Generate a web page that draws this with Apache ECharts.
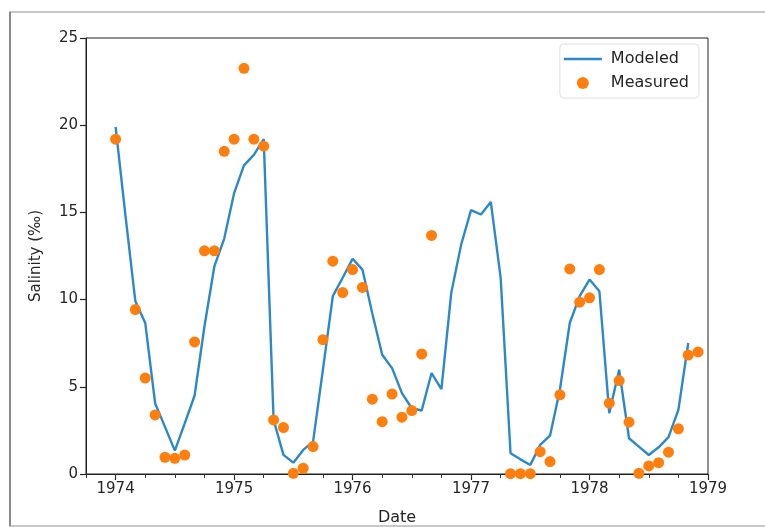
<!DOCTYPE html>
<html>
<head>
<meta charset="utf-8">
<script src="https://cdn.jsdelivr.net/npm/echarts@6/dist/echarts.min.js"></script>
<style>
html,body{margin:0;padding:0;background:#fff;}
#chart{width:765px;height:531px;}
</style>
</head>
<body>
<div id="chart"></div>
<script>
// Time base: values are monthly, index k => year startYear + k/12
const startYear = 1974;

// Modeled salinity, one value per month from Jan 1974 (k = 0..58)
const modeledValues = [
  19.9, 14.8, 9.9, 8.66, 4.06, 2.7, 1.34, 2.9, 4.5, 8.47, 11.9, 13.5,
  16.1, 17.7, 18.3, 19.2, 3.1, 1.1, 0.65, 1.38, 1.86, 6.0, 10.2, 11.25,
  12.34, 11.72, 9.2, 6.84, 6.07, 4.64, 3.77, 3.64, 5.79, 4.87, 10.4, 13.16,
  15.13, 14.88, 15.6, 11.25, 1.19, 0.84, 0.52, 1.67, 2.2, 4.83, 8.66, 10.2,
  11.15, 10.48, 3.49, 5.98, 2.05, 1.57, 1.09, 1.53, 2.11, 3.68, 7.51
];

// Measured salinity: month index and value
const measuredMonths = [
  0, 2, 3, 4, 5, 6, 7, 8, 9, 10, 11, 12, 13, 14, 15, 16, 17, 18, 19, 20,
  21, 22, 23, 24, 25, 26, 27, 28, 29, 30, 31, 32,
  40, 41, 42, 43, 44, 45, 46, 47, 48, 49, 50, 51, 52, 53, 54, 55, 56, 57, 58, 59
];
const measuredValues = [
  19.2, 9.43, 5.5, 3.39, 0.96, 0.9, 1.09, 7.57, 12.8, 12.8, 18.5, 19.2, 23.26, 19.2, 18.8, 3.1, 2.66, 0.04, 0.33, 1.57,
  7.7, 12.2, 10.4, 11.72, 10.7, 4.29, 3.0, 4.58, 3.26, 3.64, 6.88, 13.68,
  0.02, 0.02, 0.02, 1.28, 0.71, 4.54, 11.76, 9.85, 10.1, 11.72, 4.06, 5.36, 2.97, 0.04, 0.46, 0.65, 1.25, 2.59, 6.82, 7.0
];

// Axis ticks
const xMajorTicks = [1974, 1975, 1976, 1977, 1978, 1979];
const xMinorInterval = 0.25;
const yTicks = [0, 5, 10, 15, 20, 25];

const modeledData = modeledValues.map((v, k) => [startYear + k / 12, v]);
const measuredData = measuredValues.map((v, i) => [startYear + measuredMonths[i] / 12, v]);

const FONT = 'DejaVu Sans';
const TXT = '#262626';

const chart = echarts.init(document.getElementById('chart'), null, {renderer: 'canvas'});
const option = {
  backgroundColor: '#fff',
  animation: false,
  graphic: [
    {type: 'rect', z: -10, silent: true,
     shape: {x: 10, y: 12, width: 770, height: 514},
     style: {fill: 'none', stroke: '#c8c8c8', lineWidth: 2}},
    {type: 'line', z: -9, silent: true,
     shape: {x1: 10, y1: 12, x2: 10, y2: 526},
     style: {stroke: '#8a8a8a', lineWidth: 2}}
  ],
  grid: {left: 86, right: 57, top: 38, bottom: 57, show: true, borderColor: '#222', borderWidth: 1, backgroundColor: 'transparent'},
  legend: {
    right: 66, top: 44, orient: 'vertical',
    itemWidth: 38, itemHeight: 12, itemGap: 8,
    backgroundColor: '#fff', borderColor: '#e0e0e0', borderWidth: 1, borderRadius: 4,
    padding: [7, 10, 7, 4],
    textStyle: {fontFamily: FONT, fontSize: 16, color: TXT, padding: [0, 0, 0, 4]},
    data: [
      {name: 'Modeled', icon: 'path://M0,0 L40,0 L40,2.6 L0,2.6 Z'},
      {name: 'Measured', icon: 'circle'}
    ]
  },
  xAxis: [
    {
      type: 'value', min: 1973.75, max: 1979,
      name: 'Date', nameLocation: 'middle', nameGap: 36,
      nameTextStyle: {fontFamily: FONT, fontSize: 16, color: TXT},
      axisLine: {show: true, lineStyle: {color: '#222', width: 1}},
      axisTick: {show: true, customValues: xMajorTicks, length: 6, lineStyle: {color: '#222', width: 1.2}},
      axisLabel: {customValues: xMajorTicks, formatter: v => String(Math.round(v)), fontFamily: FONT, fontSize: 15, color: TXT, margin: 8},
      splitLine: {show: false}
    },
    {
      type: 'value', min: 1973.75, max: 1979, interval: xMinorInterval, position: 'bottom',
      axisLine: {show: true, lineStyle: {color: '#222', width: 1}},
      axisTick: {show: true, length: 4, lineStyle: {color: '#333', width: 1}},
      axisLabel: {show: false},
      splitLine: {show: false}
    }
  ],
  yAxis: {
    type: 'value', min: 0, max: 25, interval: 5,
    name: 'Salinity (‰)', nameLocation: 'middle', nameGap: 42, nameRotate: 90,
    nameTextStyle: {fontFamily: FONT, fontSize: 15, color: TXT},
    axisLine: {show: true, lineStyle: {color: '#222', width: 1}},
    axisTick: {show: true, length: 6, lineStyle: {color: '#222', width: 1.2}},
    axisLabel: {fontFamily: FONT, fontSize: 15, color: TXT, margin: 8},
    splitLine: {show: false}
  },
  series: [
    {
      name: 'Modeled', type: 'line', data: modeledData, symbol: 'none',
      lineStyle: {color: '#2d88c9', width: 2.4}, itemStyle: {color: '#2d88c9'}, z: 2
    },
    {
      name: 'Measured', type: 'scatter', data: measuredData, symbolSize: 11,
      itemStyle: {color: '#ff7f0e', opacity: 1}, z: 3
    }
  ]
};
chart.setOption(option);
</script>
</body>
</html>
